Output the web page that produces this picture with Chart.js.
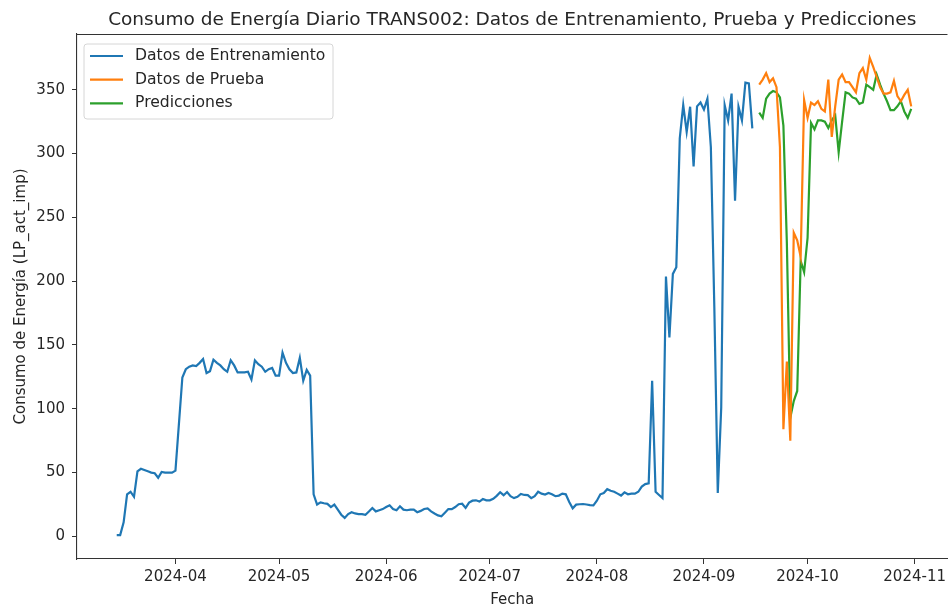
<!DOCTYPE html>
<html>
<head>
<meta charset="utf-8">
<script src="https://cdn.jsdelivr.net/npm/chart.js@4.4.1/dist/chart.umd.min.js"></script>
<style>
  html, body { margin: 0; padding: 0; background: #fff; }
  #wrap { width: 950px; height: 607px; }
</style>
</head>
<body>
<div id="wrap"><canvas id="chart" width="950" height="607"></canvas></div>
<script>
// Consumo diario TRANS002

const trainStart = "2024-03-15";
const trainValues = [
  1, 1, 11, 33, 35, 31, 51, 53, 52, 51,
  50, 49.5, 46, 50.5, 50, 50, 50, 51.5, 88, 124.5,
  131, 133, 134, 133.5, 136, 139, 128, 129.5, 138.5, 136,
  134, 131, 129, 138, 134, 128.5, 128.5, 128.5, 129, 123,
  138, 135, 133, 129, 131, 132, 126, 126, 144, 136,
  131, 128, 128.5, 140, 122, 130.5, 126, 33, 25, 26.7,
  26, 25.5, 23, 25, 21, 17, 14.5, 17.5, 19, 18,
  17.5, 17.5, 17, 19.5, 22.3, 19.6, 20.5, 21.4, 23, 24.4,
  21.5, 20.5, 23.6, 21, 20.5, 21, 21, 19, 20, 21.5,
  22, 19.6, 18, 16.5, 15.7, 18.5, 21.4, 21.4, 23, 25.2,
  25.6, 22.3, 26.5, 28, 28.3, 27.3, 29.3, 28.3, 28.3, 29.5,
  31.8, 34.6, 32.3, 34.8, 31.5, 30, 31, 33.3, 32.5, 32.3,
  30, 31.5, 35, 33.5, 32.8, 34, 33, 31.5, 32, 33.5,
  33, 27, 22, 24.9, 25.2, 25.4, 25, 24.5, 24.3, 28,
  33, 34, 37, 35.8, 35, 33.5, 32, 34.5, 33, 33.5,
  33.5, 35, 39, 41, 41.5, 122, 35, 32.5, 30, 203.6,
  156, 205.7, 211, 312, 338, 317, 336.7, 290, 337, 340,
  334.5, 343, 305, 180, 34, 101, 338, 326, 347, 263,
  336.7, 326, 355.6, 355, 319.7
];

const testStart = "2024-09-17";
const testValues = [
  354, 358, 363, 356, 359, 352, 305, 84, 137, 75,
  238, 232, 219, 342, 328, 340, 338, 341, 335, 333,
  358, 313, 337, 358, 362, 356, 356, 352, 348, 363,
  367, 358, 375, 368, 360, 352, 347, 347, 348, 357,
  345, 341, 346, 350, 337
];
const predValues = [
  332, 328, 343, 347, 349, 348, 344, 322, 230, 93,
  106, 114, 216, 207, 234, 324, 319, 326, 326, 325,
  320, 326, 330, 301, 325, 348, 347, 344, 343, 339,
  340, 354, 352, 350, 362, 354, 347, 341, 334, 334,
  337, 341, 333, 328, 335
];

const xTickLabels = ["2024-04", "2024-05", "2024-06", "2024-07", "2024-08", "2024-09", "2024-10", "2024-11"];
const yTickValues = [0, 50, 100, 150, 200, 250, 300, 350];

const DAY = 86400000;
const toDay = s => Date.UTC(+s.slice(0, 4), +s.slice(5, 7) - 1, s.length > 7 ? +s.slice(8, 10) : 1) / DAY;
const toPoints = (start, values) => values.map((v, i) => ({ x: toDay(start) + i, y: v }));
const fmtMonth = d => new Date(d * DAY).toISOString().slice(0, 7);

const firstDay = toDay(trainStart);
const lastDay = toDay(testStart) + testValues.length - 1;
const allValues = trainValues.concat(testValues, predValues);
const yLo = Math.min(...allValues), yHi = Math.max(...allValues);
const yPad = (yHi - yLo) * 0.05;

const FONT = "'DejaVu Sans', Verdana, sans-serif";
const TEXT = "#262626";

// title centred over the plot, like matplotlib
const plotTitle = {
  id: "plotTitle",
  afterDraw(chart) {
    const { ctx, chartArea } = chart;
    ctx.save();
    ctx.font = "18.5px " + FONT;
    ctx.fillStyle = TEXT;
    ctx.textAlign = "center";
    ctx.textBaseline = "middle";
    ctx.fillText("Consumo de Energía Diario TRANS002: Datos de Entrenamiento, Prueba y Predicciones",
      (chartArea.left + chartArea.right) / 2, 20);
    ctx.restore();
  }
};

// top spine + legend box in the upper left corner
const frameAndLegend = {
  id: "frameAndLegend",
  afterDatasetsDraw(chart) {
    const { ctx, chartArea } = chart;
    ctx.save();
    ctx.strokeStyle = "#333";
    ctx.lineWidth = 1.1;
    ctx.beginPath();
    ctx.moveTo(chartArea.left, chartArea.top + 0.5);
    ctx.lineTo(chartArea.right, chartArea.top + 0.5);
    ctx.stroke();

    const x0 = chartArea.left + 7, y0 = chartArea.top + 10;
    const w = 249, h = 75, r = 3;
    ctx.beginPath();
    ctx.moveTo(x0 + r, y0);
    ctx.arcTo(x0 + w, y0, x0 + w, y0 + h, r);
    ctx.arcTo(x0 + w, y0 + h, x0, y0 + h, r);
    ctx.arcTo(x0, y0 + h, x0, y0, r);
    ctx.arcTo(x0, y0, x0 + w, y0, r);
    ctx.closePath();
    ctx.fillStyle = "rgba(255,255,255,0.8)";
    ctx.fill();
    ctx.strokeStyle = "#d6d6d6";
    ctx.lineWidth = 1;
    ctx.stroke();

    ctx.font = "15.6px " + FONT;
    ctx.textBaseline = "middle";
    ctx.textAlign = "left";
    chart.data.datasets.forEach((ds, i) => {
      const y = y0 + 12 + i * 23.7;
      ctx.strokeStyle = ds.borderColor;
      ctx.lineWidth = ds.borderWidth;
      ctx.beginPath();
      ctx.moveTo(x0 + 6, y);
      ctx.lineTo(x0 + 39, y);
      ctx.stroke();
      ctx.fillStyle = TEXT;
      ctx.fillText(ds.label, x0 + 51, y);
    });
    ctx.restore();
  }
};

const axisStyle = {
  grid: { drawOnChartArea: false, drawTicks: true, tickLength: 5, color: "#333" },
  border: { display: true, color: "#333", width: 1.1 }
};

new Chart(document.getElementById("chart"), {
  type: "line",
  data: {
    datasets: [
      { label: "Datos de Entrenamiento", data: toPoints(trainStart, trainValues), borderColor: "#1f77b4", borderWidth: 2.2 },
      { label: "Datos de Prueba", data: toPoints(testStart, testValues), borderColor: "#ff7f0e", borderWidth: 2.2 },
      { label: "Predicciones", data: toPoints(testStart, predValues), borderColor: "#2ca02c", borderWidth: 2.2 }
    ]
  },
  options: {
    responsive: false,
    animation: false,
    devicePixelRatio: 1,
    layout: { padding: { top: 34, right: 0, left: 0, bottom: 0 } },
    elements: { point: { radius: 0 }, line: { tension: 0 } },
    plugins: { legend: { display: false }, title: { display: false }, tooltip: { enabled: false } },
    scales: {
      x: {
        type: "linear",
        min: firstDay - 11.5,
        max: lastDay + 10.5,
        ...axisStyle,
        afterBuildTicks: s => { s.ticks = xTickLabels.map(l => ({ value: toDay(l) })); },
        afterFit: s => { s.height = 48; },
        ticks: {
          autoSkip: false, maxRotation: 0, padding: 4,
          font: { family: FONT, size: 15 }, color: TEXT,
          callback: v => fmtMonth(v)
        },
        title: { display: true, text: "Fecha", font: { family: FONT, size: 15 }, color: TEXT, padding: { top: 0, bottom: -2 } }
      },
      y: {
        min: yLo - yPad,
        max: yHi + yPad,
        ...axisStyle,
        afterBuildTicks: s => { s.ticks = yTickValues.map(v => ({ value: v })); },
        afterFit: s => { s.width = 77; },
        ticks: { padding: 7, font: { family: FONT, size: 15 }, color: TEXT },
        title: { display: true, text: "Consumo de Energía (LP_act_imp)", font: { family: FONT, size: 15 }, color: TEXT, padding: { top: 12, bottom: 0 } }
      }
    }
  },
  plugins: [plotTitle, frameAndLegend]
});
</script>
</body>
</html>
